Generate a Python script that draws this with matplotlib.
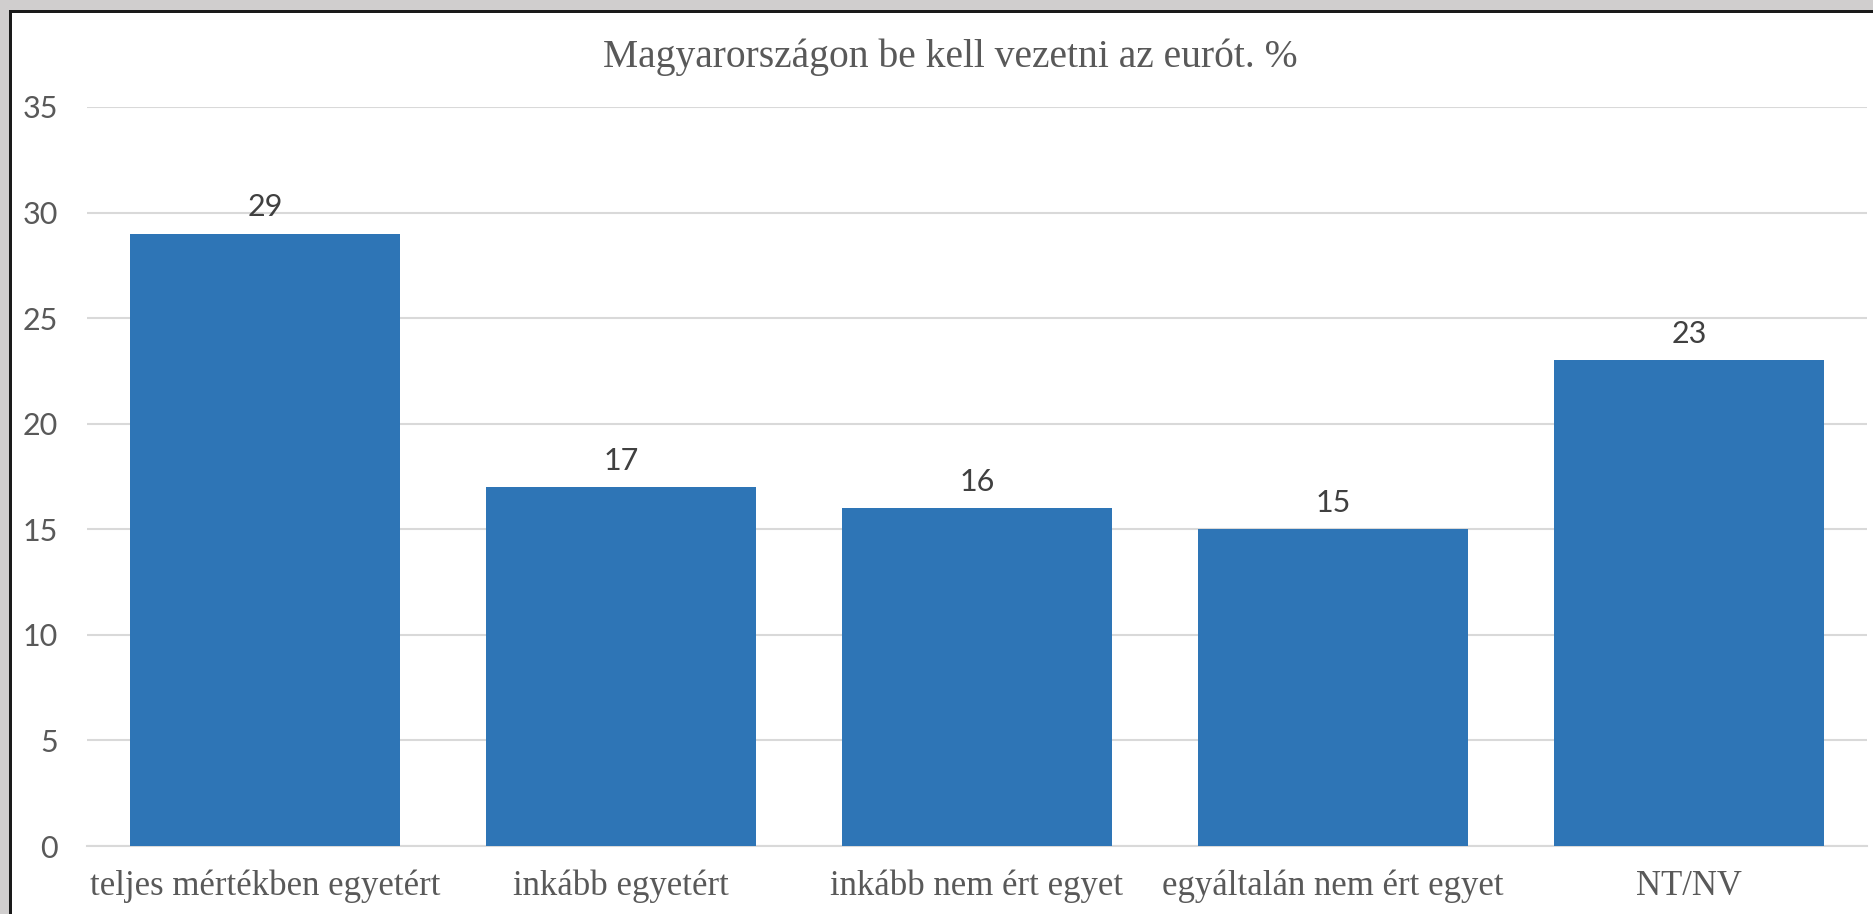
import matplotlib.pyplot as plt
from matplotlib.patches import Rectangle

# chart data
categories = ['teljes mértékben egyetért', 'inkább egyetért', 'inkább nem ért egyet',
              'egyáltalán nem ért egyet', 'NT/NV']
values = [29, 17, 16, 15, 23]
y_ticks = [0, 5, 10, 15, 20, 25, 30, 35]
title = 'Magyarországon be kell vezetni az eurót. %'

W, H = 1874, 914
fig = plt.figure(figsize=(W / 100, H / 100), dpi=100)
fig.patch.set_facecolor('white')

# axes placed in pixel terms of the original
ax = fig.add_axes([87 / W, (H - 846) / H, (1867 - 87) / W, (846 - 107) / H])
ax.set_facecolor('white')

x = list(range(len(categories)))
bars = ax.bar(x, values, width=0.76, color='#2E75B6', zorder=3)

ax.set_xlim(-0.5, len(categories) - 0.5)
ax.set_ylim(0, 35)
ax.set_yticks(y_ticks)
ax.set_yticklabels([str(t) for t in y_ticks], fontfamily='Lato', fontsize=22, color='#595959')
ax.set_xticks(x)
ax.set_xticklabels(categories, fontfamily='Liberation Serif', fontsize=25, color='#595959')
ax.tick_params(axis='y', length=0, pad=21)
ax.tick_params(axis='x', length=0, pad=17)

# grid
ax.grid(axis='y', color='#D9D9D9', linewidth=1.5, zorder=0)
for s in ['top', 'right', 'left']:
    ax.spines[s].set_visible(False)
ax.spines['bottom'].set_color('#D9D9D9')
ax.spines['bottom'].set_linewidth(1.5)

# value labels
for b, v in zip(bars, values):
    ax.annotate(str(v), (b.get_x() + b.get_width() / 2, v), xytext=(0, 9),
                textcoords='offset points', ha='center', va='bottom',
                fontfamily='Lato', fontsize=22, color='#404040')

# title
fig.text(950 / W, (H - 67) / H, title, ha='center', va='baseline',
         fontfamily='Liberation Serif', fontsize=28.5, color='#595959')

# grey window frame on top and left, with dark edge
fig.add_artist(Rectangle((0, 1 - 10 / H), 1, 10 / H, transform=fig.transFigure,
                         facecolor='#D0CECE', edgecolor='none'))
fig.add_artist(Rectangle((0, 0), 9 / W, 1, transform=fig.transFigure,
                         facecolor='#D0CECE', edgecolor='none'))
fig.add_artist(Rectangle((9 / W, 0), 2.5 / W, 1 - 10 / H, transform=fig.transFigure,
                         facecolor='#1A1A1A', edgecolor='none'))
fig.add_artist(Rectangle((9 / W, 1 - 12.5 / H), 1, 2.5 / H, transform=fig.transFigure,
                         facecolor='#1A1A1A', edgecolor='none'))

fig.savefig('out.png', dpi=100)
